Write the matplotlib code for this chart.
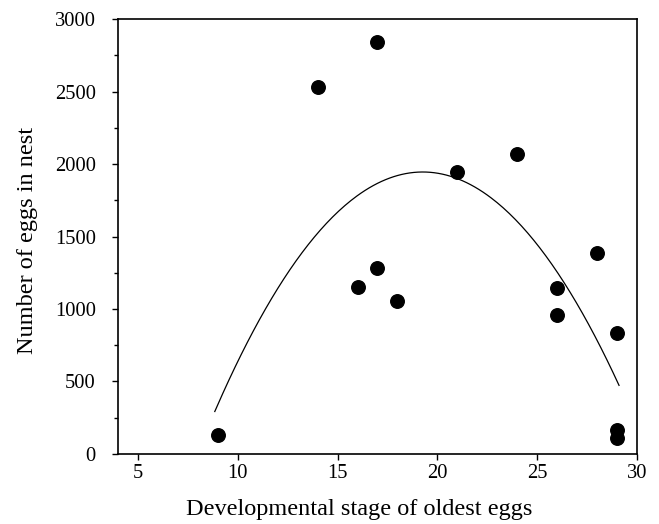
import numpy as np
import matplotlib
matplotlib.use("Agg")
import matplotlib.pyplot as plt
from matplotlib.ticker import MultipleLocator

# stage of oldest eggs vs number of eggs in nest
stage = [9, 14, 17, 16, 17, 18, 21, 24, 26, 26, 28, 29, 29, 29]
eggs = [131, 2531, 2843, 1152, 1283, 1057, 1942, 2068, 1145, 957, 1386, 836, 165, 110]

x_ticks = [5, 10, 15, 20, 25, 30]
y_ticks = [0, 500, 1000, 1500, 2000, 2500, 3000]

plt.rcParams['font.family'] = ['Liberation Serif', 'DejaVu Serif']

fig = plt.figure(figsize=(6.59, 5.24), dpi=100)
ax = fig.add_axes([0.179, 0.1336, 0.7876, 0.8301])

# quadratic regression line over the observed range
coef = np.polyfit(stage, eggs, 2)
xs = np.linspace(8.85, 29.1, 200)
ax.plot(xs, np.polyval(coef, xs), color="black", lw=0.9)

ax.scatter(stage, eggs, s=95, color="black", zorder=3)

ax.set_xlim(4, 30)
ax.set_ylim(0, 3000)
ax.set_xticks(x_ticks)
ax.set_yticks(y_ticks)
ax.yaxis.set_minor_locator(MultipleLocator(250))
ax.tick_params(which="both", direction="out", labelsize=14.8, width=1)
ax.tick_params(which="major", length=4)
ax.tick_params(which="minor", length=3)
ax.tick_params(axis="x", pad=3)
ax.tick_params(axis="y", pad=12)
for sp in ax.spines.values():
    sp.set_linewidth(1.2)

ax.set_xlabel("Developmental stage of oldest eggs", fontsize=17.5)
ax.set_ylabel("Number of eggs in nest", fontsize=17.5)
ax.xaxis.set_label_coords(0.464, -0.104)
ax.yaxis.set_label_coords(-0.155, 0.49)

fig.savefig("out.png", dpi=100)
